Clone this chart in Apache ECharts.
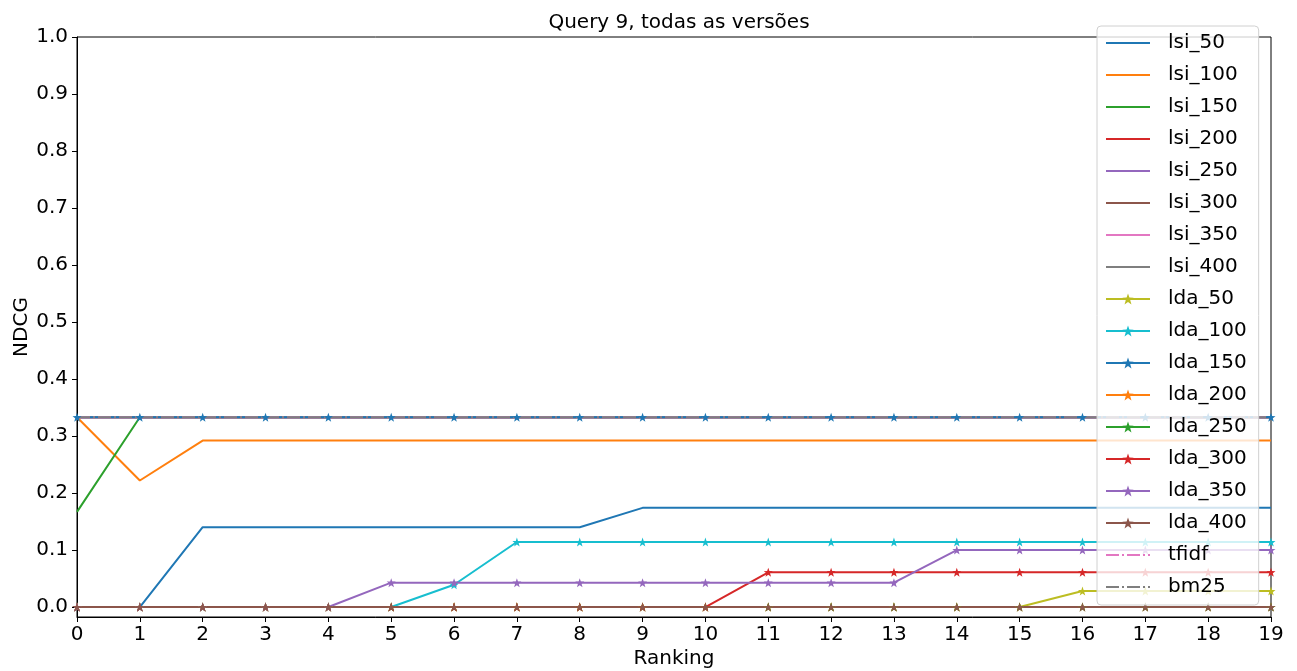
<!DOCTYPE html>
<html>
<head>
<meta charset="utf-8">
<script src="https://cdn.jsdelivr.net/npm/echarts@6/dist/echarts.min.js"></script>
<style>
  html, body { margin: 0; padding: 0; background: #fff; }
  #chart { width: 1297px; height: 671px; }
</style>
</head>
<body>
<div id="chart"></div>
<script>
// NDCG por posição do ranking, query 9
var ranking = [0,1,2,3,4,5,6,7,8,9,10,11,12,13,14,15,16,17,18,19];
var yTicks = [0,0.1,0.2,0.3,0.4,0.5,0.6,0.7,0.8,0.9,1.0];

var lsi_50  = [0,0,0.14,0.14,0.14,0.14,0.14,0.14,0.14,0.174,0.174,0.174,0.174,0.174,0.174,0.174,0.174,0.174,0.174,0.174];
var lsi_100 = [0.333,0.222,0.292,0.292,0.292,0.292,0.292,0.292,0.292,0.292,0.292,0.292,0.292,0.292,0.292,0.292,0.292,0.292,0.292,0.292];
var lsi_150 = [0.167,0.333,0.333,0.333,0.333,0.333,0.333,0.333,0.333,0.333,0.333,0.333,0.333,0.333,0.333,0.333,0.333,0.333,0.333,0.333];
var lsi_200 = [0.333,0.333,0.333,0.333,0.333,0.333,0.333,0.333,0.333,0.333,0.333,0.333,0.333,0.333,0.333,0.333,0.333,0.333,0.333,0.333];
var lsi_250 = [0.333,0.333,0.333,0.333,0.333,0.333,0.333,0.333,0.333,0.333,0.333,0.333,0.333,0.333,0.333,0.333,0.333,0.333,0.333,0.333];
var lsi_300 = [0.333,0.333,0.333,0.333,0.333,0.333,0.333,0.333,0.333,0.333,0.333,0.333,0.333,0.333,0.333,0.333,0.333,0.333,0.333,0.333];
var lsi_350 = [0.333,0.333,0.333,0.333,0.333,0.333,0.333,0.333,0.333,0.333,0.333,0.333,0.333,0.333,0.333,0.333,0.333,0.333,0.333,0.333];
var lsi_400 = [0.333,0.333,0.333,0.333,0.333,0.333,0.333,0.333,0.333,0.333,0.333,0.333,0.333,0.333,0.333,0.333,0.333,0.333,0.333,0.333];
var lda_50  = [0,0,0,0,0,0,0,0,0,0,0,0,0,0,0,0,0.028,0.028,0.028,0.028];
var lda_100 = [0,0,0,0,0,0,0.039,0.114,0.114,0.114,0.114,0.114,0.114,0.114,0.114,0.114,0.114,0.114,0.114,0.114];
var lda_150 = [0.333,0.333,0.333,0.333,0.333,0.333,0.333,0.333,0.333,0.333,0.333,0.333,0.333,0.333,0.333,0.333,0.333,0.333,0.333,0.333];
var lda_200 = [0,0,0,0,0,0,0,0,0,0,0,0,0,0,0,0,0,0,0,0];
var lda_250 = [0,0,0,0,0,0,0,0,0,0,0,0,0,0,0,0,0,0,0,0];
var lda_300 = [0,0,0,0,0,0,0,0,0,0,0,0.061,0.061,0.061,0.061,0.061,0.061,0.061,0.061,0.061];
var lda_350 = [0,0,0,0,0,0.0427,0.0427,0.0427,0.0427,0.0427,0.0427,0.0427,0.0427,0.0427,0.1,0.1,0.1,0.1,0.1,0.1];
var lda_400 = [0,0,0,0,0,0,0,0,0,0,0,0,0,0,0,0,0,0,0,0];
var tfidf   = [0.333,0.333,0.333,0.333,0.333,0.333,0.333,0.333,0.333,0.333,0.333,0.333,0.333,0.333,0.333,0.333,0.333,0.333,0.333,0.333];
var bm25    = [0.333,0.333,0.333,0.333,0.333,0.333,0.333,0.333,0.333,0.333,0.333,0.333,0.333,0.333,0.333,0.333,0.333,0.333,0.333,0.333];

var star = 'path://M0,-10L2.35,-3.24L9.51,-3.09L3.8,1.24L5.88,8.09L0,4L-5.88,8.09L-3.8,1.24L-9.51,-3.09L-2.35,-3.24Z';
var fonte = 'DejaVu Sans';

var linhas = [
  ['lsi_50', lsi_50, '#1f77b4', 'plain'],
  ['lsi_100', lsi_100, '#ff7f0e', 'plain'],
  ['lsi_150', lsi_150, '#2ca02c', 'plain'],
  ['lsi_200', lsi_200, '#d62728', 'plain'],
  ['lsi_250', lsi_250, '#9467bd', 'plain'],
  ['lsi_300', lsi_300, '#8c564b', 'plain'],
  ['lsi_350', lsi_350, '#e377c2', 'plain'],
  ['lsi_400', lsi_400, '#7f7f7f', 'plain'],
  ['lda_50', lda_50, '#bcbd22', 'star'],
  ['lda_100', lda_100, '#17becf', 'star'],
  ['lda_150', lda_150, '#1f77b4', 'star'],
  ['lda_200', lda_200, '#ff7f0e', 'star'],
  ['lda_250', lda_250, '#2ca02c', 'star'],
  ['lda_300', lda_300, '#d62728', 'star'],
  ['lda_350', lda_350, '#9467bd', 'star'],
  ['lda_400', lda_400, '#8c564b', 'star'],
  ['tfidf', tfidf, '#e377c2', 'dashdot'],
  ['bm25', bm25, '#7f7f7f', 'dashdot']
];

var series = linhas.map(function (l) {
  var s = {
    name: l[0],
    type: 'line',
    data: l[1].map(function (v, i) { return [ranking[i], v]; }),
    color: l[2],
    lineStyle: { width: 2, color: l[2] },
    itemStyle: { color: l[2], opacity: 0 },   // sem marcador (nem na legenda)
    symbol: 'none',
    emphasis: { disabled: true }
  };
  if (l[3] == 'star') {
    s.symbol = star;
    s.symbolSize = 9;
    s.showSymbol = true;
    s.showAllSymbol = true;
    s.itemStyle.opacity = 1;
  }
  if (l[3] == 'dashdot') {
    s.lineStyle.type = [13, 3, 2, 3];
  }
  return s;
});

var chart = echarts.init(document.getElementById('chart'));
var option = {
  animation: false,
  title: {
    text: 'Query 9, todas as versões',
    left: 674,
    textAlign: 'center',
    top: 8,
    textStyle: { fontFamily: fonte, fontSize: 20, fontWeight: 'normal', color: '#000' }
  },
  grid: {
    left: 77, right: 26, top: 37, bottom: 54,
    outerBoundsMode: 'none',
    show: true, borderColor: '#000', borderWidth: 1
  },
  legend: {
    orient: 'vertical',
    left: 1097,
    top: 26,
    padding: [5, 12, 6, 8],
    itemWidth: 44,
    itemHeight: 14,
    itemGap: 8,
    selectedMode: false,
    backgroundColor: 'rgba(255,255,255,0.8)',
    borderColor: '#d0d0d0',
    borderWidth: 1,
    borderRadius: 4,
    textStyle: { fontFamily: fonte, fontSize: 20, color: '#000', lineHeight: 24, padding: [0, 0, 0, 13] },
    data: linhas.map(function (l) { return l[0]; })
  },
  xAxis: {
    type: 'value',
    min: 0, max: 19, interval: 1,
    name: 'Ranking',
    nameLocation: 'middle',
    nameGap: 32,
    nameMoveOverlap: false,
    nameTextStyle: { fontFamily: fonte, fontSize: 20, color: '#000' },
    axisLine: { show: true, onZero: false, lineStyle: { color: '#000', width: 1 } },
    axisTick: { show: true, length: 5, lineStyle: { color: '#000' } },
    axisLabel: { fontFamily: fonte, fontSize: 20, color: '#000', margin: 8 },
    splitLine: { show: false }
  },
  yAxis: {
    type: 'value',
    min: -0.0175, max: 1.0,
    name: 'NDCG',
    nameLocation: 'middle',
    nameGap: 45,
    nameMoveOverlap: false,
    nameRotate: 90,
    nameTextStyle: { fontFamily: fonte, fontSize: 20, color: '#000' },
    axisLine: { show: true, lineStyle: { color: '#000', width: 1 } },
    axisTick: { show: true, length: 5, customValues: yTicks, lineStyle: { color: '#000' } },
    axisLabel: {
      fontFamily: fonte, fontSize: 20, color: '#000', margin: 9,
      customValues: yTicks,
      formatter: function (v) { return v.toFixed(1); }
    },
    splitLine: { show: false }
  },
  series: series
};
chart.setOption(option);
</script>
</body>
</html>
